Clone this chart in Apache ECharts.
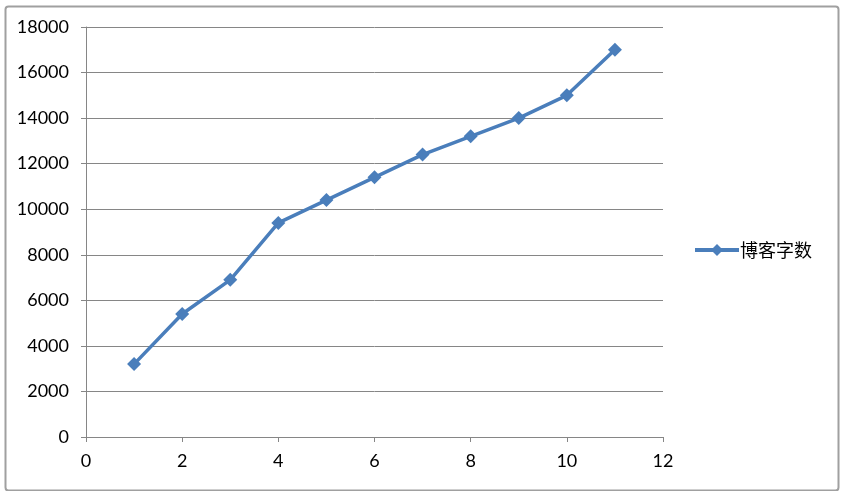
<!DOCTYPE html>
<html><head><meta charset="utf-8">
<script src="https://cdn.jsdelivr.net/npm/echarts@6/dist/echarts.min.js"></script>
<style>html,body{margin:0;padding:0;background:#fff}#c{width:842px;height:491px}</style>
</head><body><div id="c"></div>
<script>
const xValues = [1, 2, 3, 4, 5, 6, 7, 8, 9, 10, 11];
const wordCounts = [3200, 5400, 6900, 9400, 10400, 11400, 12400, 13200, 14000, 15000, 17000];
const seriesName = '博客字数';

const chart = echarts.init(document.getElementById('c'));
const font = 'Lato, "Noto Sans CJK SC", sans-serif';
chart.setOption({
  animation: false,
  backgroundColor: '#fff',
  graphic: [{
    type: 'rect', left: 3, top: 4,
    shape: { width: 833, height: 484, r: 3 },
    style: { fill: 'none', stroke: '#a0a0a0', lineWidth: 2 }
  }],
  grid: { left: 86, right: 179, top: 27, bottom: 54 },
  legend: {
    data: [seriesName], orient: 'vertical', left: 688, top: 236,
    itemWidth: 44, itemHeight: 15, itemGap: 5,
    lineStyle: { width: 4 },
    textStyle: { fontFamily: '"Noto Sans CJK SC", sans-serif', fontSize: 18, color: '#000', padding: [0, 0, 0, -4] }
  },
  xAxis: {
    type: 'value', min: 0, max: 12, interval: 2,
    axisLine: { show: true, lineStyle: { color: '#868686', width: 1 } },
    axisTick: { show: true, length: 5, lineStyle: { color: '#868686' } },
    splitLine: { show: false },
    axisLabel: { fontFamily: font, fontSize: 18, color: '#000', margin: 15 }
  },
  yAxis: {
    type: 'value', min: 0, max: 18000, interval: 2000,
    axisLine: { show: true, lineStyle: { color: '#868686', width: 1 } },
    axisTick: { show: true, length: 5, lineStyle: { color: '#868686' } },
    splitLine: { show: true, lineStyle: { color: '#868686', width: 1 } },
    axisLabel: { fontFamily: font, fontSize: 18, color: '#000', margin: 17, formatter: v => String(v) }
  },
  series: [{
    name: seriesName, type: 'line',
    data: xValues.map((x, i) => [x, wordCounts[i]]),
    symbol: 'diamond', symbolSize: 14,
    lineStyle: { color: '#4A7EBB', width: 3.5 },
    itemStyle: { color: '#4A7EBB' }
  }]
});
</script></body></html>
